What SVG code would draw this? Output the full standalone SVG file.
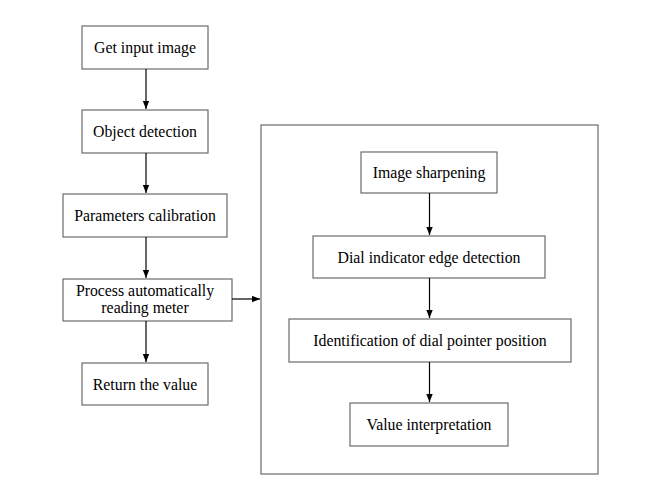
<svg xmlns="http://www.w3.org/2000/svg" width="652" height="503" viewBox="0 0 652 503">
<defs>
<marker id="ah" markerWidth="8" markerHeight="8" refX="8" refY="4" orient="auto" markerUnits="userSpaceOnUse">
<path d="M0,0.8 L8,4 L0,7.2 Z" fill="#000"/>
</marker>
<style>
.box{fill:#fff;stroke:#6b6b6b;stroke-width:1.2}
.t{font-family:"Liberation Serif","Times New Roman",serif;font-size:15.8px;fill:#000;text-anchor:middle}
.c{stroke:#000;stroke-width:1.2;fill:none;marker-end:url(#ah)}
</style>
</defs>
<rect width="652" height="503" fill="#fff"/>
<g id="container"><rect class="box" x="261" y="125" width="337" height="349"/></g>
<g id="n1"><rect class="box" x="82" y="26" width="126" height="43"/><text class="t" x="145" y="53">Get input image</text></g>
<g id="n2"><rect class="box" x="82" y="110" width="126" height="43"/><text class="t" x="145" y="137">Object detection</text></g>
<g id="n3"><rect class="box" x="63" y="194" width="164" height="43"/><text class="t" x="145" y="221">Parameters calibration</text></g>
<g id="n4"><rect class="box" x="63" y="279" width="169" height="42"/><text class="t" x="145" y="296">Process automatically</text><text class="t" x="145" y="313">reading meter</text></g>
<g id="n5"><rect class="box" x="82" y="363" width="126" height="42"/><text class="t" x="145" y="389.5">Return the value</text></g>
<g id="m1"><rect class="box" x="361" y="152" width="136" height="41"/><text class="t" x="429" y="178">Image sharpening</text></g>
<g id="m2"><rect class="box" x="313" y="236" width="232" height="42"/><text class="t" x="429" y="262.5">Dial indicator edge detection</text></g>
<g id="m3"><rect class="box" x="289" y="319" width="282" height="43"/><text class="t" x="430" y="346">Identification of dial pointer position</text></g>
<g id="m4"><rect class="box" x="350" y="403" width="158" height="43"/><text class="t" x="429" y="430">Value interpretation</text></g>
<g id="connectors">
<line class="c" x1="146" y1="69" x2="146" y2="109"/>
<line class="c" x1="146" y1="153" x2="146" y2="193"/>
<line class="c" x1="146" y1="237" x2="146" y2="278"/>
<line class="c" x1="146" y1="321" x2="146" y2="362"/>
<line class="c" x1="232" y1="299" x2="260" y2="299"/>
<line class="c" x1="429.5" y1="193" x2="429.5" y2="235"/>
<line class="c" x1="429.5" y1="278" x2="429.5" y2="318"/>
<line class="c" x1="429.5" y1="362" x2="429.5" y2="402"/>
</g>
</svg>
